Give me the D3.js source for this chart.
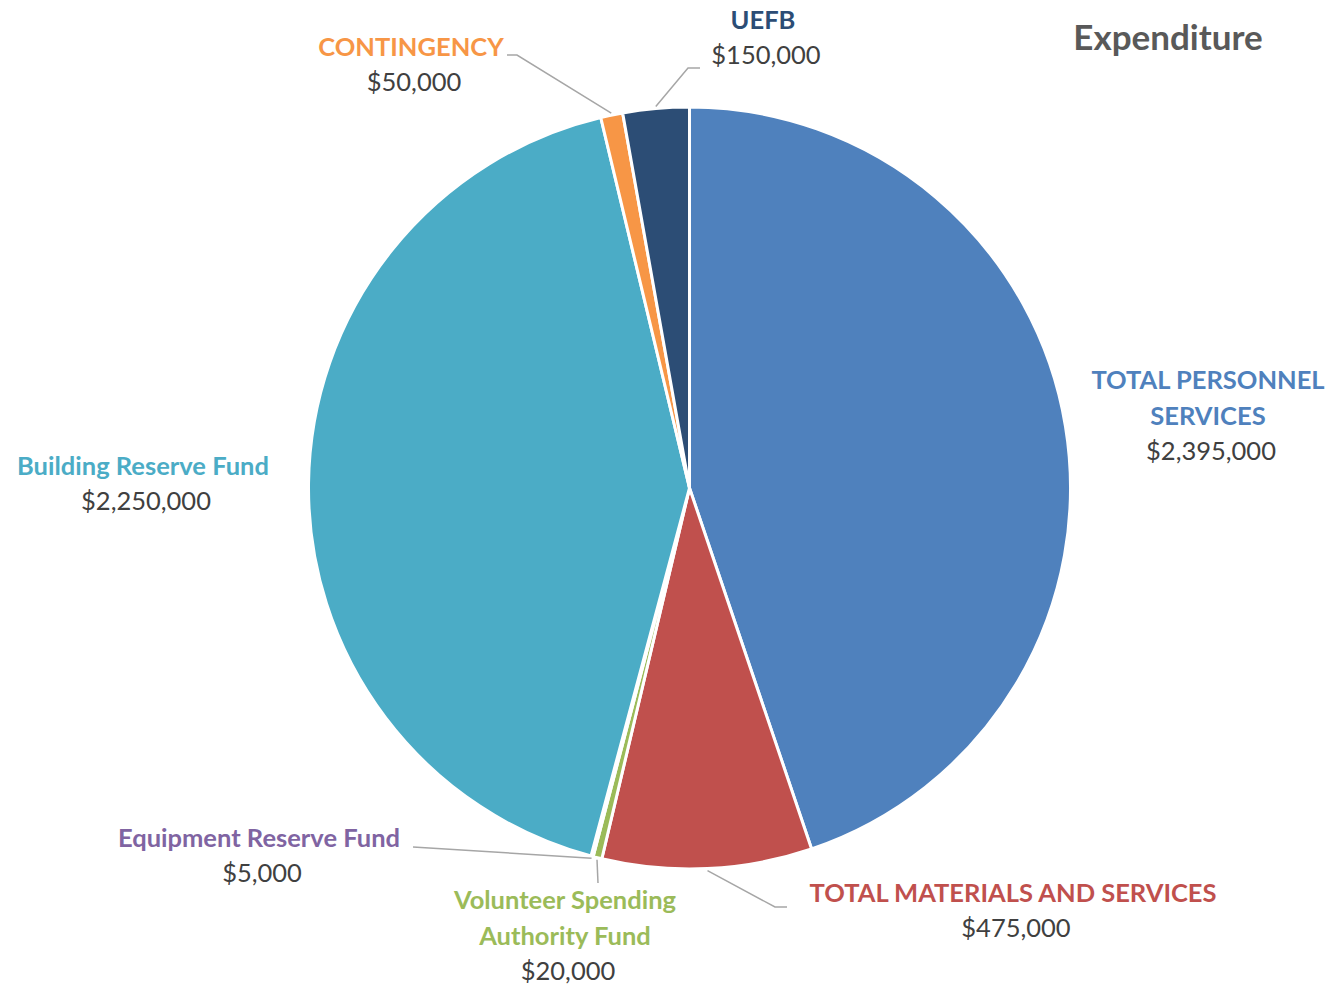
<!DOCTYPE html>
<html><head><meta charset="utf-8">
<script src="https://cdn.jsdelivr.net/npm/d3@7"></script>
<style>body{margin:0;background:#fff}</style>
</head><body>
<svg id="c" width="1333" height="986"></svg>
<script>
const categories = ["TOTAL PERSONNEL SERVICES","TOTAL MATERIALS AND SERVICES","Volunteer Spending Authority Fund","Equipment Reserve Fund","Building Reserve Fund","CONTINGENCY","UEFB"];
const values = [2395000,475000,20000,5000,2250000,50000,150000];
const colors = ["#4F81BD","#C0504D","#9BBB59","#8064A2","#4BACC6","#F79646","#2C4D75"];
const nameLines = [["TOTAL PERSONNEL","SERVICES"],["TOTAL MATERIALS AND SERVICES"],["Volunteer Spending","Authority Fund"],["Equipment Reserve Fund"],["Building Reserve Fund"],["CONTINGENCY"],["UEFB"]];
// label layout (centre x, first line y) and leader elbow points
const labelPos = [[1208,389],[1013,902],[565,909],[259,847],[143,475],[411,56],[763,29]];
const leaders = [null,[[775,907],[787,907]],[[598,883]],[[413,847]],null,[[517,55],[507,55]],[[688,68],[700,68]]];

const svg = d3.select("#c");
const font = "Lato, 'Open Sans', sans-serif";
const cx = 689.5, cy = 488, R = 381;
const pie = d3.pie().sort(null).value(d=>d)(values);
const arc = d3.arc().innerRadius(0).outerRadius(R);
const g = svg.append("g").attr("transform",`translate(${cx},${cy})`);
g.selectAll("path").data(pie).join("path").attr("d",arc)
  .attr("fill",(d,i)=>colors[i]).attr("stroke","#fff").attr("stroke-width",3).attr("stroke-linejoin","round");

const fmt = d3.format(",");
pie.forEach((d,i)=>{
  if(!leaders[i]) return;
  const a = (d.startAngle+d.endAngle)/2;
  const p0 = [cx+Math.sin(a)*(R+2), cy-Math.cos(a)*(R+2)];
  const pts = [p0, ...leaders[i]];
  svg.append("path").attr("d",d3.line()(pts)).attr("fill","none").attr("stroke","#A6A6A6").attr("stroke-width",1.5);
});

categories.forEach((c,i)=>{
  const [x,y] = labelPos[i];
  const t = svg.append("text").attr("text-anchor","middle").attr("font-family",font).attr("font-size",25.5);
  nameLines[i].forEach((ln,k)=>{
    t.append("tspan").attr("x",x).attr("y",y+k*36).attr("font-weight","bold").attr("fill",colors[i]).text(ln);
  });
  t.append("tspan").attr("x",x+3).attr("y",y+nameLines[i].length*36-1).attr("fill","#404040").text("$"+fmt(values[i]));
});

svg.append("text").attr("x",1168).attr("y",50).attr("text-anchor","middle").attr("font-family",font)
  .attr("font-size",35).attr("font-weight","bold").attr("fill","#595959").text("Expenditure");
</script>
</body></html>
